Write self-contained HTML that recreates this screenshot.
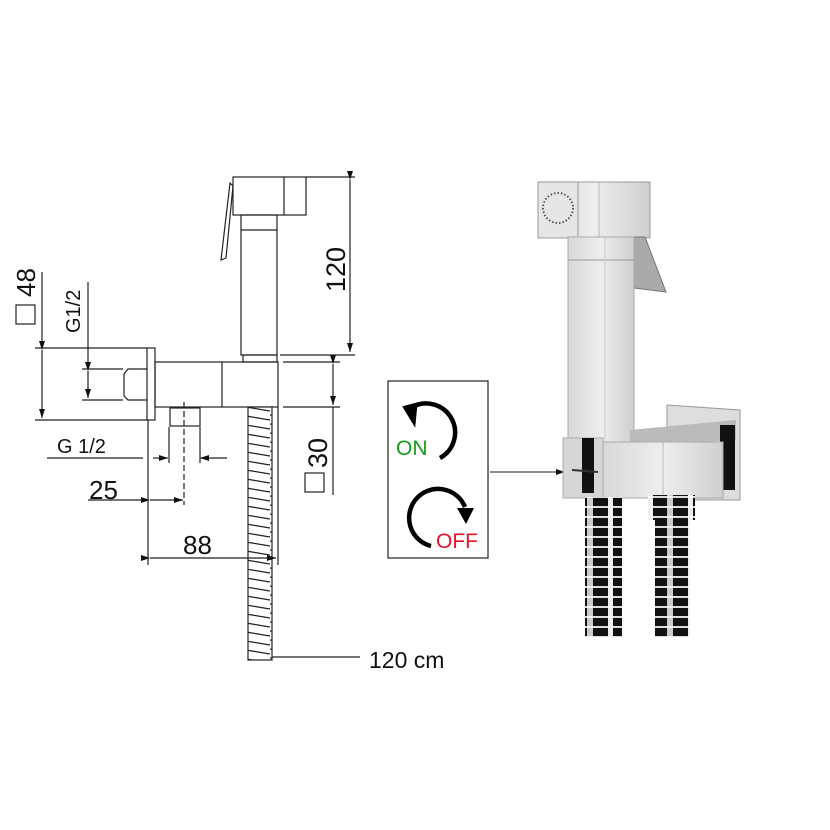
<!DOCTYPE html>
<html><head><meta charset="utf-8"><style>
html,body{margin:0;padding:0;background:#fff;}
svg{display:block;}
text{font-family:"Liberation Sans",sans-serif;fill:#111;}
</style></head><body>
<svg width="830" height="830" viewBox="0 0 830 830" xmlns="http://www.w3.org/2000/svg">
<defs>
<marker id="a" markerWidth="10" markerHeight="8" refX="9" refY="4" orient="auto" markerUnits="userSpaceOnUse"><path d="M0,1 L9,4 L0,7 Z" fill="#111"/></marker>
<pattern id="hose" width="30" height="9" patternUnits="userSpaceOnUse"><rect width="30" height="9" fill="#fff"/><path d="M0,1 L30,6" stroke="#222" stroke-width="1.3"/></pattern>
<pattern id="hose2" width="40" height="10" patternUnits="userSpaceOnUse"><rect width="40" height="10" fill="#111"/><rect x="8" width="5" height="10" fill="#eee"/><rect x="27" width="6" height="10" fill="#ccc"/><rect y="6" width="40" height="2" fill="#fff" opacity="0.85"/></pattern>
<linearGradient id="g1" x1="0" x2="1"><stop offset="0" stop-color="#d8d8d8"/><stop offset="0.5" stop-color="#eee"/><stop offset="1" stop-color="#cfcfcf"/></linearGradient>
</defs>
<g fill="none" stroke="#222" stroke-width="1.2">
<rect x="233" y="177" width="73" height="38"/>
<line x1="284" y1="177" x2="284" y2="215"/>
<path d="M230,183 L233,186 L226,258 L221,260 Z"/>
<rect x="241" y="215" width="36" height="140"/>
<line x1="241" y1="230" x2="277" y2="230"/>
<rect x="243" y="355" width="34" height="7"/>
<rect x="147" y="348" width="8" height="72"/>
<rect x="155" y="362" width="123" height="45"/>
<line x1="222" y1="362" x2="222" y2="407"/>
<path d="M147,369 L128,369 L124,374 L124,396 L128,400 L147,400"/>
<rect x="170" y="408" width="30" height="18"/>
<line x1="184" y1="402" x2="184" y2="505" stroke-dasharray="6,3"/>
<rect x="248" y="407" width="24" height="253" fill="url(#hose)"/>
<line x1="306" y1="177" x2="355" y2="177"/>
<line x1="280" y1="355" x2="355" y2="355"/>
<line x1="350" y1="180" x2="350" y2="352" marker-start="url(#a)" marker-end="url(#a)"/>
<line x1="283" y1="362" x2="340" y2="362"/>
<line x1="283" y1="407" x2="340" y2="407"/>
<line x1="333" y1="364" x2="333" y2="405" marker-start="url(#a)" marker-end="url(#a)"/>
<line x1="333" y1="407" x2="333" y2="495"/>
<line x1="35" y1="348" x2="147" y2="348"/>
<line x1="35" y1="420" x2="147" y2="420"/>
<line x1="42" y1="272" x2="42" y2="348"/>
<line x1="42" y1="350" x2="42" y2="418" marker-start="url(#a)" marker-end="url(#a)"/>
<line x1="82" y1="369" x2="123" y2="369"/>
<line x1="82" y1="400" x2="123" y2="400"/>
<line x1="88" y1="282" x2="88" y2="369"/>
<line x1="88" y1="371" x2="88" y2="398" marker-start="url(#a)" marker-end="url(#a)"/>
<line x1="47" y1="458" x2="143" y2="458"/>
<line x1="153" y1="458" x2="168" y2="458" marker-end="url(#a)"/>
<line x1="227" y1="458" x2="200" y2="458" marker-end="url(#a)"/>
<line x1="169" y1="427" x2="169" y2="463"/>
<line x1="200" y1="427" x2="200" y2="463"/>
<line x1="88" y1="500" x2="148" y2="500"/>
<line x1="150" y1="500" x2="183" y2="500" marker-start="url(#a)" marker-end="url(#a)"/>
<line x1="148" y1="420" x2="148" y2="565"/>
<line x1="150" y1="558" x2="276" y2="558" marker-start="url(#a)" marker-end="url(#a)"/>
<line x1="278" y1="407" x2="278" y2="565"/>
<line x1="272" y1="657" x2="360" y2="657"/>
<rect x="16" y="305" width="19" height="19"/>
<rect x="305" y="473" width="19" height="19"/>
</g>
<text x="0" y="0" font-size="26" transform="translate(35,297) rotate(-90)">48</text>
<text x="0" y="0" font-size="20" transform="translate(80,333) rotate(-90)">G1/2</text>
<text x="0" y="0" font-size="27" transform="translate(345,292) rotate(-90)">120</text>
<text x="0" y="0" font-size="27" transform="translate(327,468) rotate(-90)">30</text>
<text x="57" y="453" font-size="20">G 1/2</text>
<text x="89" y="499" font-size="26">25</text>
<text x="183" y="554" font-size="26">88</text>
<text x="369" y="668" font-size="23">120 cm</text>

<rect x="388" y="381" width="100" height="177" fill="none" stroke="#222" stroke-width="1.2"/>
<line x1="490" y1="472" x2="565" y2="472" stroke="#222" stroke-width="1" marker-end="url(#a)"/>
<path d="M440,458 A29,29 0 1 0 412,407" fill="none" stroke="#000" stroke-width="4.5"/>
<path d="M404,404 L420,404 L411,428 Z" fill="#000" transform="rotate(-15 412 412)"/>
<text x="396" y="455" font-size="21" style="fill:#1a9a1a">ON</text>
<path d="M431,546 A29,29 0 1 1 465,507" fill="none" stroke="#000" stroke-width="4.5"/>
<path d="M457,508 L474,508 L466,524 Z" fill="#000"/>
<text x="436" y="548" font-size="21" style="fill:#e8102a">OFF</text>

<rect x="538" y="182" width="112" height="56" fill="url(#g1)" stroke="#999"/>
<rect x="538" y="182" width="40" height="56" fill="#e6e6e6" stroke="#999"/>
<circle cx="558" cy="208" r="15" fill="none" stroke="#555" stroke-width="2" stroke-dasharray="1.5,2"/>
<line x1="599" y1="182" x2="599" y2="238" stroke="#bbb"/>
<polygon points="634,237 645,237 666,292 634,288" fill="#aaa" stroke="#777"/>
<rect x="568" y="237" width="66" height="205" fill="url(#g1)" stroke="#aaa"/>
<line x1="568" y1="260" x2="634" y2="260" stroke="#999"/>
<line x1="605" y1="237" x2="605" y2="442" stroke="#ccc"/>
<polygon points="667,405 740,410 740,500 667,500" fill="#ddd" stroke="#999"/>
<polygon points="630,430 736,420 736,440 630,446" fill="#bbb"/>
<rect x="720" y="425" width="15" height="65" fill="#111"/>
<rect x="563" y="438" width="40" height="60" fill="#d6d6d6" stroke="#aaa"/>
<rect x="582" y="438" width="12" height="55" fill="#111"/>
<rect x="603" y="442" width="120" height="56" fill="url(#g1)" stroke="#aaa"/>
<line x1="663" y1="442" x2="663" y2="498" stroke="#bbb"/>
<line x1="572" y1="470" x2="598" y2="472" stroke="#333" stroke-width="2"/>
<rect x="585" y="497" width="37" height="140" fill="url(#hose2)"/>
<rect x="648" y="495" width="47" height="25" fill="url(#hose2)"/>
<rect x="655" y="520" width="35" height="117" fill="url(#hose2)"/>
</svg>
</body></html>
